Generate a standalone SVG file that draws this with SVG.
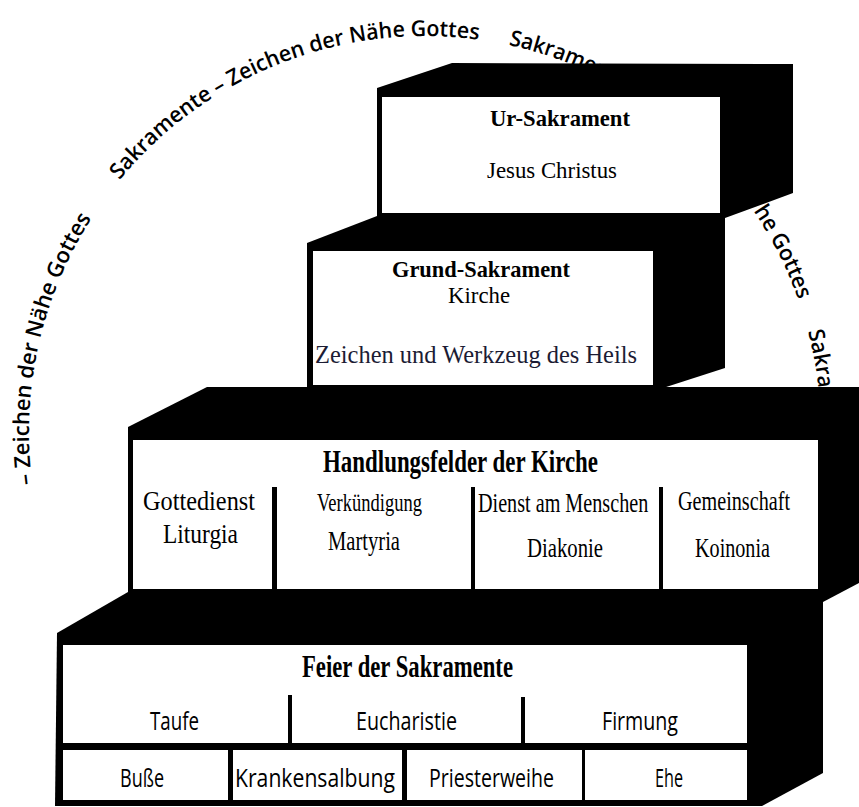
<svg xmlns="http://www.w3.org/2000/svg" xmlns:xlink="http://www.w3.org/1999/xlink" width="859" height="807" viewBox="0 0 859 807">
<style>
.blk{fill:#000}
.wht{fill:#fff}
.arc{font-family:"Open Sans","DejaVu Sans",sans-serif;font-size:22px;font-weight:600;fill:#000}
.sb{font-family:"Liberation Serif","Times New Roman",serif;font-weight:bold;fill:#000}
.sr{font-family:"Liberation Serif","Times New Roman",serif;fill:#000}
.ss{font-family:"Open Sans","Liberation Sans",sans-serif;font-size:25px;fill:#000}
</style>
<defs>
<path id="arcpath" d="M 35 500.8 A 396 396 0 1 1 815 500.8" fill="none"/>
</defs>
<rect width="859" height="807" fill="#fff"/>
<g id="arc-text">
<text class="arc"><textPath xlink:href="#arcpath" href="#arcpath" startOffset="17" textLength="278" lengthAdjust="spacingAndGlyphs">– Zeichen der Nähe Gottes</textPath></text>
<text class="arc"><textPath xlink:href="#arcpath" href="#arcpath" startOffset="342" textLength="403" lengthAdjust="spacingAndGlyphs">Sakramente – Zeichen der Nähe Gottes</textPath></text>
<text class="arc"><textPath xlink:href="#arcpath" href="#arcpath" startOffset="775" textLength="111" lengthAdjust="spacingAndGlyphs">Sakrament</textPath></text>
<text class="arc"><textPath xlink:href="#arcpath" href="#arcpath" startOffset="1078" textLength="100" lengthAdjust="spacingAndGlyphs">he Gottes</textPath></text>
<text class="arc"><textPath xlink:href="#arcpath" href="#arcpath" startOffset="1211" textLength="58" lengthAdjust="spacingAndGlyphs">Sakra</textPath></text>
</g>
<g id="connectors"></g>
<g id="node-ur">
<polygon class="blk" points="377,88 452,63 793,64 793,193 725,218 377,218"/>
<rect class="wht" x="382" y="97" width="338" height="116"/>
<text class="sb" x="490" y="126" font-size="24" textLength="140" lengthAdjust="spacingAndGlyphs">Ur-Sakrament</text>
<text class="sr" x="487" y="178" font-size="24" textLength="130" lengthAdjust="spacingAndGlyphs">Jesus Christus</text>
</g>
<g id="node-grund">
<polygon class="blk" points="307,243 377,216 725,216 725,368 663,388 307,388"/>
<rect class="wht" x="313" y="251" width="340" height="134"/>
<text class="sb" x="392" y="277" font-size="23" textLength="178" lengthAdjust="spacingAndGlyphs">Grund-Sakrament</text>
<text class="sr" x="448" y="303" font-size="24" textLength="62" lengthAdjust="spacingAndGlyphs">Kirche</text>
<text class="sr" x="315" y="363" font-size="25" style="fill:#1c1c34" textLength="322" lengthAdjust="spacingAndGlyphs">Zeichen und Werkzeug des Heils</text>
</g>
<g id="node-handlungsfelder">
<polygon class="blk" points="128,427 207,387 859,387 859,583 823,602 128,602"/>
<rect class="wht" x="133" y="440" width="685" height="149"/>
<rect class="blk" x="272" y="487" width="5" height="102"/>
<rect class="blk" x="471" y="487" width="4" height="102"/>
<rect class="blk" x="659" y="487" width="4" height="102"/>
<text class="sb" x="323" y="472" font-size="31" textLength="275" lengthAdjust="spacingAndGlyphs">Handlungsfelder der Kirche</text>
<text class="sr" x="143" y="510" font-size="27" textLength="112" lengthAdjust="spacingAndGlyphs">Gottedienst</text>
<text class="sr" x="163" y="543" font-size="27" textLength="75" lengthAdjust="spacingAndGlyphs">Liturgia</text>
<text class="sr" x="317" y="511" font-size="25" textLength="105" lengthAdjust="spacingAndGlyphs">Verkündigung</text>
<text class="sr" x="328" y="550" font-size="27" textLength="72" lengthAdjust="spacingAndGlyphs">Martyria</text>
<text class="sr" x="0" y="0" font-size="27" transform="translate(478 512) scale(0.747 1)">Dienst am Menschen</text>
<text class="sr" x="527" y="557" font-size="27" textLength="76" lengthAdjust="spacingAndGlyphs">Diakonie</text>
<text class="sr" x="678" y="510" font-size="27" textLength="112" lengthAdjust="spacingAndGlyphs">Gemeinschaft</text>
<text class="sr" x="695" y="557" font-size="27" textLength="75" lengthAdjust="spacingAndGlyphs">Koinonia</text>
</g>
<g id="node-feier">
<polygon class="blk" points="57,633 128,592 823,592 823,773 762,806 55,806"/>
<rect class="wht" x="63" y="645" width="684" height="98"/>
<rect class="blk" x="288" y="695" width="4" height="48"/>
<rect class="blk" x="521" y="697" width="4" height="46"/>
<rect class="wht" x="63" y="750" width="165" height="50"/>
<rect class="wht" x="233" y="750" width="169" height="50"/>
<rect class="wht" x="407" y="750" width="175" height="50"/>
<rect class="wht" x="585" y="750" width="162" height="50"/>
<text class="sb" x="302" y="677" font-size="32" textLength="211" lengthAdjust="spacingAndGlyphs">Feier der Sakramente</text>
<text class="ss" x="150" y="730" textLength="49" lengthAdjust="spacingAndGlyphs">Taufe</text>
<text class="ss" x="356" y="730" textLength="101" lengthAdjust="spacingAndGlyphs">Eucharistie</text>
<text class="ss" x="602" y="730" textLength="76" lengthAdjust="spacingAndGlyphs">Firmung</text>
<text class="ss" x="120" y="787" textLength="44" lengthAdjust="spacingAndGlyphs">Buße</text>
<text class="ss" x="235" y="787" textLength="160" lengthAdjust="spacingAndGlyphs">Krankensalbung</text>
<text class="ss" x="429" y="787" textLength="125" lengthAdjust="spacingAndGlyphs">Priesterweihe</text>
<text class="ss" x="655" y="787" textLength="28" lengthAdjust="spacingAndGlyphs">Ehe</text>
</g>
</svg>
